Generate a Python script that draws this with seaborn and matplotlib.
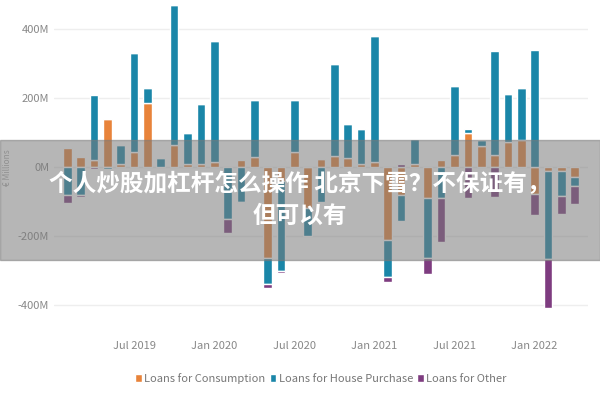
import numpy as np
import pandas as pd
import matplotlib
matplotlib.use("Agg")
import matplotlib.pyplot as plt
import seaborn as sns

months = pd.date_range("2019-02-01", periods=39, freq="MS")
consumption = [55, 30, 20, 140, 10, 45, 185, 0, 65, 10, 10, 15, 0, 22, 30, -265, -40, 45, -120, 24,
               33, 27, 10, 15, -210, -80, 10, -90, 22, 36, 98, 60, 36, 74, 79, -78, -10, -10, -30]
house = [-80, -80, 190, -5, 55, 285, 45, 27, 405, 88, 173, 352, -150, -100, 165, -75, -260, 150, -80, -100,
         267, 97, 100, 365, -110, -75, 72, -175, -90, 200, 12, 20, 300, 138, 152, 340, -258, -75, -25]
other = [-25, -8, -5, 0, 0, 0, 0, 0, 0, 0, 0, 0, -40, -5, 0, -10, -8, 0, 0, 0,
         0, 0, 0, 0, -12, 10, 0, -45, -128, 0, -90, 0, -88, 0, 0, -62, -142, -50, -52]
series = {"Loans for Consumption": consumption,
          "Loans for House Purchase": house,
          "Loans for Other": other}
colors = ["#E8833A", "#1A86A8", "#7E3C80"]
tick_months = ["2019-07", "2020-01", "2020-07", "2021-01", "2021-07", "2022-01"]

sns.set_theme(style="white")
plt.rcParams['font.family'] = ['Noto Sans CJK SC', 'DejaVu Sans']

fig, ax = plt.subplots(figsize=(6, 4), dpi=100)
fig.subplots_adjust(left=0.09, right=0.98, top=1.0, bottom=0.16)

x = np.arange(len(months))
pos = np.zeros(len(x))
neg = np.zeros(len(x))
for (name, vals), c in zip(series.items(), colors):
    v = np.array(vals, dtype=float)
    bottom = np.where(v >= 0, pos, neg)
    ax.bar(x, v, bottom=bottom, width=0.65, color=c, label=name)
    pos += np.clip(v, 0, None)
    neg += np.clip(v, None, 0)

ax.set_ylim(-490, 485)
ax.set_xlim(-1, len(x))
ax.set_yticks([-400, -200, 0, 200, 400])
ax.set_yticklabels(["-400M", "-200M", "0M", "200M", "400M"], color="#888888", fontsize=8)
ax.yaxis.grid(True, color="#eeeeee")
ax.set_axisbelow(True)
idx = [list(months.strftime("%Y-%m")).index(m) for m in tick_months]
ax.set_xticks(idx)
ax.set_xticklabels([months[i].strftime("%b %Y") for i in idx], color="#888888", fontsize=8)
ax.tick_params(length=0)
ax.set_ylabel("€ Millions", color="#aaaaaa", fontsize=6)
for s in ax.spines.values():
    s.set_visible(False)

ax.legend(loc="upper center", bbox_to_anchor=(0.5, -0.08), ncol=3, frameon=False,
          fontsize=8, handlelength=0.6, handletextpad=0.2, columnspacing=0.4,
          labelcolor="#777777")

fig.patches.append(plt.Rectangle((0, 0.35), 1, 0.3, transform=fig.transFigure,
                                 color="#7a7a7a", alpha=0.55, zorder=5))
fig.text(0.5, 0.5, "个人炒股加杠杆怎么操作 北京下雪？不保证有，\n但可以有", ha="center", va="center",
         color="white", fontsize=17, fontweight="bold", zorder=6, linespacing=1.4)

fig.savefig("out.png")
